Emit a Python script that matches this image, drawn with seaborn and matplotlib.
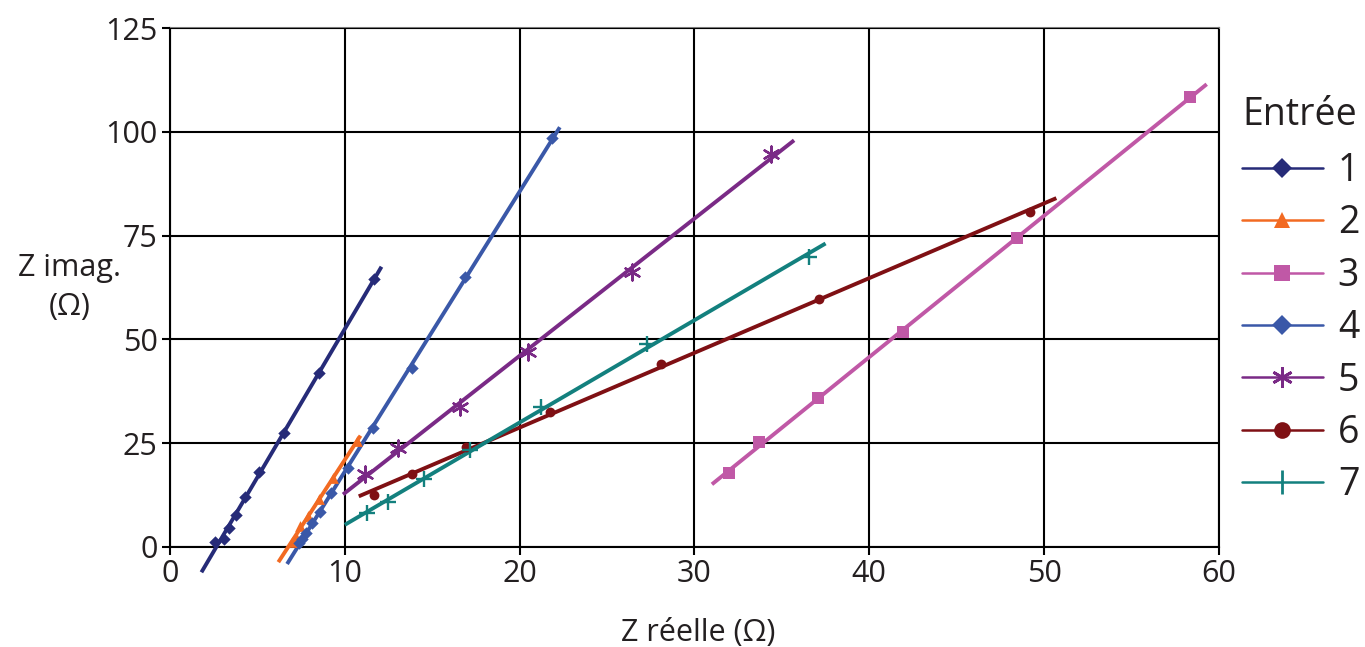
import numpy as np
import pandas as pd
import matplotlib
matplotlib.use("Agg")
import matplotlib.pyplot as plt
from matplotlib.lines import Line2D
import seaborn as sns

# Impedance measurements per input (real part, imaginary part, in ohms)
x1 = [2.6, 3.1, 3.4, 3.8, 4.3, 5.1, 6.5, 8.5, 11.7]
y1 = [1.2, 2.0, 4.5, 7.8, 12.0, 18.0, 27.5, 42.0, 64.5]

x2 = [7.0, 7.2, 7.45, 7.9, 8.5, 9.35, 10.7]
y2 = [1.2, 2.5, 5.0, 7.5, 11.5, 16.5, 25.5]

x3 = [32.0, 33.7, 37.05, 41.95, 48.45, 58.35]
y3 = [17.8, 25.2, 36.0, 51.8, 74.4, 108.4]

x4 = [7.4, 7.55, 7.8, 8.1, 8.6, 9.2, 10.2, 11.6, 13.85, 16.9, 21.85]
y4 = [1.0, 2.0, 3.3, 5.7, 8.5, 13.0, 19.0, 28.7, 43.0, 65.0, 98.5]

x5 = [11.15, 13.05, 16.6, 20.5, 26.4, 34.4]
y5 = [17.6, 23.8, 33.8, 47.0, 66.3, 94.7]

x6 = [11.65, 13.85, 16.95, 21.75, 28.1, 37.15, 49.2]
y6 = [12.5, 17.5, 24.0, 32.4, 44.0, 59.8, 80.7]

x7 = [11.25, 12.5, 14.55, 17.15, 21.25, 27.3, 36.55]
y7 = [8.1, 10.9, 16.3, 23.4, 33.8, 48.8, 69.9]

# Real-part range covered by each linear trend line
trend_from = [1.8, 6.2, 31.0, 6.7, 9.9, 10.8, 10.0]
trend_to = [12.1, 10.9, 59.3, 22.3, 35.7, 50.7, 37.5]

entries = ["1", "2", "3", "4", "5", "6", "7"]
xs = [x1, x2, x3, x4, x5, x6, x7]
ys = [y1, y2, y3, y4, y5, y6, y7]

x_ticks = [0, 10, 20, 30, 40, 50, 60]
y_ticks = [0, 25, 50, 75, 100, 125]

colors = {
    "1": "#262b78", "2": "#f26a22", "3": "#c058a6", "4": "#3a58a8",
    "5": "#7a2a86", "6": "#7f1014", "7": "#13807e",
}
markers = {
    "1": "D", "2": "^", "3": "s", "4": "D",
    "5": (6, 2, 0), "6": "o", "7": "+",
}
msize = {"1": 40, "2": 60, "3": 75, "4": 40, "5": 130, "6": 50, "7": 130}

df = pd.concat(
    [pd.DataFrame({"re": x, "im": y, "Entrée": e}) for x, y, e in zip(xs, ys, entries)],
    ignore_index=True,
)

sns.set_theme(style="white")
plt.rcParams["font.family"] = ["Open Sans", "DejaVu Sans"]
ink = "#231f20"

fig = plt.figure(figsize=(13.65, 6.47), dpi=100)
ax = fig.add_axes([0.1245, 0.1546, 0.7685, 0.8021])

# Linear trend line for each input
for e, x0, x1_ in zip(entries, trend_from, trend_to):
    sub = df[df["Entrée"] == e]
    k, b = np.polyfit(sub["re"], sub["im"], 1)
    xl = np.array([x0, x1_])
    ax.plot(xl, k * xl + b, color=colors[e], lw=2.8, solid_capstyle="butt",
            zorder=3, clip_on=False)

for e in entries:
    sub = df[df["Entrée"] == e]
    lw = 1.7 if e in ("5", "7") else 0
    sns.scatterplot(data=sub, x="re", y="im", ax=ax, color=colors[e],
                    marker=markers[e], s=msize[e], linewidth=lw,
                    edgecolor=colors[e], legend=False, zorder=4, clip_on=False)

ax.set_xlim(0, 60)
ax.set_ylim(0, 125)
ax.set_xticks(x_ticks)
ax.set_yticks(y_ticks)
ax.grid(True, color="black", lw=1.5)
ax.set_axisbelow(True)
for s in ax.spines.values():
    s.set_color("black")
    s.set_linewidth(1.5)
    s.set_zorder(0.5)
ax.spines["top"].set_color("#7a7a7a")
ax.tick_params(axis="both", which="both", direction="out", length=6, width=1.5,
               color="black", labelsize=22, labelcolor=ink, pad=3,
               bottom=True, left=True)
ax.set_xlabel("")
ax.set_ylabel("")

fig.text(0.5113, 0.0095, "Z réelle (Ω)", ha="center", va="baseline", fontsize=22, color=ink)
fig.text(0.051, 0.556, "Z imag.\n(Ω)", ha="center", va="center", fontsize=22,
         color=ink, linespacing=1.4)

handles = []
lsize = {"1": 10, "2": 11, "3": 11.5, "4": 10, "5": 15, "6": 12, "7": 17}
lmark = dict(markers)
lmark["7"] = "|"
for e in entries:
    handles.append(Line2D([0], [0], color=colors[e], lw=1.8, marker=lmark[e],
                          markersize=lsize[e],
                          markeredgewidth=2.0 if e in ("5", "7") else 0,
                          markerfacecolor=colors[e], markeredgecolor=colors[e]))
leg = fig.legend(handles, entries, title="Entrée", loc="upper left",
                 bbox_to_anchor=(0.910, 0.852), frameon=False, fontsize=27,
                 title_fontsize=27, handlelength=2.15, handletextpad=0.4,
                 labelspacing=0.385, borderaxespad=0, borderpad=0)
leg._legend_box.align = "left"
leg._legend_box.sep = 13
for t in leg.get_texts():
    t.set_color(ink)
leg.get_title().set_color(ink)

fig.savefig("out.png", dpi=100)
